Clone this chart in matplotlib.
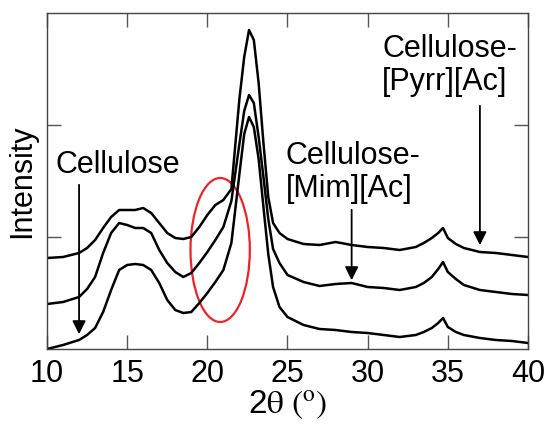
import matplotlib
matplotlib.use("Agg")
import matplotlib.pyplot as plt
from matplotlib.patches import Ellipse

plt.rcParams['font.family'] = ['Liberation Sans', 'DejaVu Sans']
plt.rcParams['mathtext.fontset'] = 'stix'

# 2theta positions and intensities (arbitrary units)
two_theta = [10, 11, 12, 12.5, 13, 13.5, 14, 14.5, 15, 15.5, 16, 16.5, 17, 17.5, 18, 18.5,
             19, 19.5, 20, 20.5, 21, 21.5, 22, 22.3, 22.6, 22.9, 23.2, 23.5, 23.8, 24.1, 24.5,
             25, 26, 27, 28, 29, 30, 31, 32, 33, 33.5, 34, 34.4, 34.7, 35, 35.5, 36, 37, 38, 39, 40]

cellulose = [0, 4, 9, 14, 21, 37, 59, 79, 84, 85, 84, 79, 66, 49, 39, 36,
             37, 46, 56, 67, 79, 106, 175, 215, 232, 222, 190, 142, 95, 62, 42,
             32, 24, 20, 19, 17, 16, 14, 12, 14, 17, 21, 26, 31, 22, 17, 14, 11, 9, 8, 6]

mim_ac = [45, 47, 52, 60, 72, 96, 116, 126, 124, 121, 121, 116, 99, 86, 77, 72,
          76, 86, 97, 109, 122, 148, 205, 238, 254, 246, 212, 172, 130, 100, 86,
          74, 67, 63, 65, 66, 62, 61, 59, 62, 66, 72, 80, 87, 77, 70, 64, 59, 57, 55, 54]

pyrr_ac = [91, 92, 96, 101, 109, 121, 132, 139, 139, 139, 141, 136, 126, 116, 111, 110,
           112, 122, 134, 144, 149, 160, 250, 292, 319, 309, 266, 206, 152, 126, 116,
           110, 105, 104, 107, 104, 102, 101, 99, 102, 106, 111, 116, 121, 111, 105, 101, 97, 96, 94, 92]

fig = plt.figure(figsize=(5.51, 4.26), dpi=100)
ax = fig.add_axes([47 / 551, 77 / 426, 481 / 551, 336 / 426])

for series in (cellulose, mim_ac, pyrr_ac):
    ax.plot(two_theta, series, color='black', lw=1.8)

ax.set_xlim(10, 40)
ax.set_ylim(0, 336)
ax.set_xticks([10, 15, 20, 25, 30, 35, 40])
ax.set_yticks([112, 224])
ax.set_yticklabels([])
ax.tick_params(direction='in', length=10, width=1, color='#555555',
               top=True, right=True, labelsize=22, pad=7)
for sp in ax.spines.values():
    sp.set_color('#444444')
    sp.set_linewidth(1)

ax.set_ylabel('Intensity', fontsize=22)
ax.yaxis.set_label_coords(-0.021, 0.5)
ax.set_xlabel(r'$\mathregular{2}\mathrm{\theta}\ (^{\mathrm{o}})$', fontsize=24, labelpad=0)

# highlighted region
ax.add_patch(Ellipse((20.8, 99), 3.7, 144, fill=False,
                     edgecolor='#e8262a', lw=1.6))

arrow = dict(arrowstyle='-|>', color='black', lw=1.3, mutation_scale=20)
ax.annotate('', xy=(12, 12), xytext=(12, 167), arrowprops=arrow)
ax.annotate('', xy=(29, 66), xytext=(29, 142), arrowprops=arrow)
ax.annotate('', xy=(37, 101), xytext=(37, 246), arrowprops=arrow)

ax.text(10.5, 176, 'Cellulose', fontsize=22, ha='left', va='baseline')
ax.text(24.9, 152, 'Cellulose-\n[Mim][Ac]', fontsize=22, ha='left', va='baseline',
        linespacing=1.15)
ax.text(30.9, 259, 'Cellulose-\n[Pyrr][Ac]', fontsize=22, ha='left', va='baseline',
        linespacing=1.15)

fig.savefig('out.png', dpi=100)
